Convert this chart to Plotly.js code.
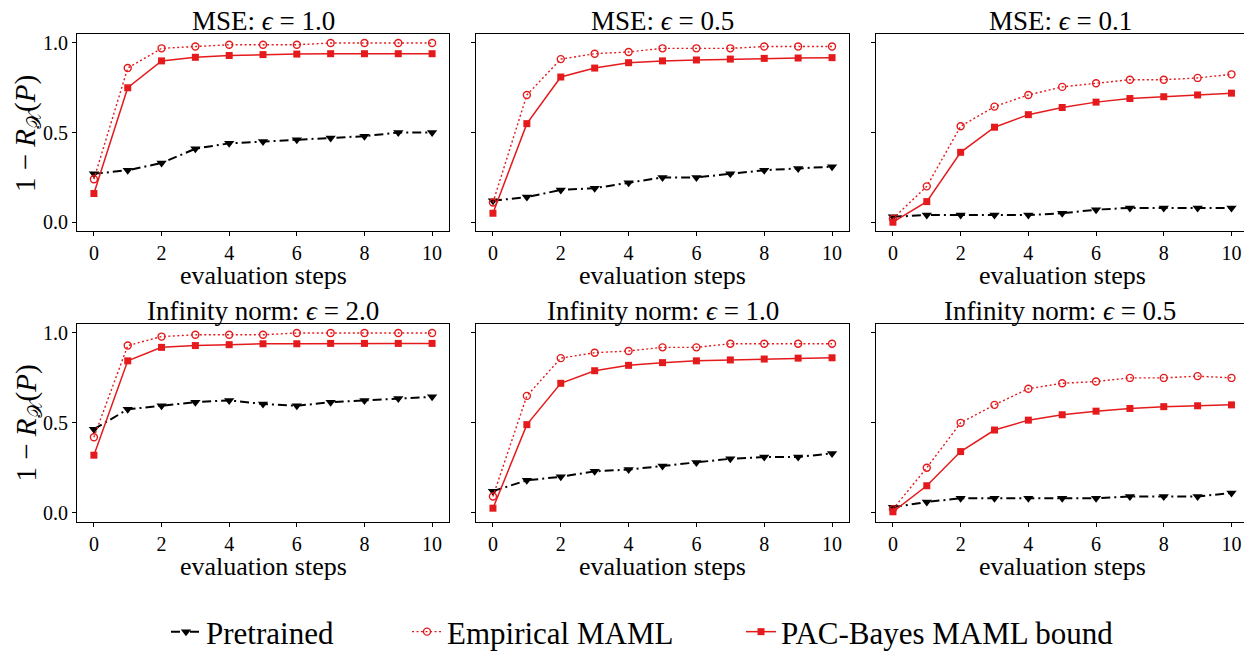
<!DOCTYPE html>
<html>
<head>
<meta charset="utf-8">
<script src="https://cdn.plot.ly/plotly-3.0.1.min.js"></script>
<style>html,body{margin:0;padding:0;background:#fff;}#chart{width:1244px;height:651px;}</style>
</head>
<body>
<div id="chart"></div>
<script>
const steps = [0,1,2,3,4,5,6,7,8,9,10];
const panelTitles = [
  'MSE: <i>ϵ</i> = 1.0', 'MSE: <i>ϵ</i> = 0.5', 'MSE: <i>ϵ</i> = 0.1',
  'Infinity norm: <i>ϵ</i> = 2.0', 'Infinity norm: <i>ϵ</i> = 1.0', 'Infinity norm: <i>ϵ</i> = 0.5'
];
const seriesNames = ['Pretrained', 'Empirical MAML', 'PAC-Bayes MAML bound'];
const yTitle = '1 − <i>R</i><sub>𝒳</sub>(<i>P</i>)';
const xTitle = 'evaluation steps';
const yTickVals = [0, 0.5, 1.0];
const yTickText = ['0.0', '0.5', '1.0'];
const xTickVals = [0, 2, 4, 6, 8, 10];

const mse10_pre = [0.27,0.29,0.33,0.41,0.44,0.45,0.46,0.47,0.48,0.50,0.50];
const mse10_emp = [0.24,0.86,0.97,0.98,0.99,0.99,0.99,1.00,1.00,1.00,1.00];
const mse10_pac = [0.16,0.75,0.90,0.92,0.93,0.935,0.938,0.94,0.94,0.94,0.94];

const mse05_pre = [0.12,0.14,0.18,0.19,0.22,0.25,0.25,0.27,0.29,0.30,0.31];
const mse05_emp = [0.11,0.71,0.91,0.94,0.95,0.97,0.97,0.97,0.98,0.98,0.98];
const mse05_pac = [0.05,0.55,0.81,0.86,0.89,0.90,0.905,0.91,0.914,0.916,0.918];

const mse01_pre = [0.03,0.04,0.04,0.04,0.04,0.05,0.07,0.08,0.08,0.08,0.08];
const mse01_emp = [0.02,0.20,0.535,0.645,0.71,0.755,0.775,0.795,0.795,0.805,0.825];
const mse01_pac = [0.00,0.115,0.39,0.53,0.60,0.64,0.67,0.69,0.70,0.71,0.72];

const inf20_pre = [0.465,0.575,0.595,0.615,0.625,0.605,0.595,0.615,0.625,0.635,0.645];
const inf20_emp = [0.42,0.93,0.98,0.99,0.99,0.99,1.0,1.0,1.0,1.0,1.0];
const inf20_pac = [0.32,0.845,0.92,0.93,0.935,0.94,0.94,0.942,0.942,0.942,0.942];

const inf10_pre = [0.12,0.18,0.20,0.23,0.24,0.26,0.28,0.30,0.31,0.31,0.33];
const inf10_emp = [0.09,0.65,0.86,0.89,0.90,0.92,0.92,0.94,0.94,0.94,0.94];
const inf10_pac = [0.025,0.49,0.72,0.79,0.82,0.835,0.845,0.85,0.855,0.86,0.862];

const inf05_pre = [0.03,0.06,0.08,0.08,0.08,0.08,0.08,0.09,0.09,0.09,0.11];
const inf05_emp = [0.02,0.25,0.50,0.60,0.69,0.72,0.73,0.75,0.75,0.76,0.75];
const inf05_pac = [0.005,0.15,0.34,0.46,0.515,0.545,0.565,0.58,0.59,0.595,0.60];

const panels = [
  [mse10_pre, mse10_emp, mse10_pac],
  [mse05_pre, mse05_emp, mse05_pac],
  [mse01_pre, mse01_emp, mse01_pac],
  [inf20_pre, inf20_emp, inf20_pac],
  [inf10_pre, inf10_emp, inf10_pac],
  [inf05_pre, inf05_emp, inf05_pac]
];

const RED = '#e41a1c';
const FONT = '"Liberation Serif", "DejaVu Serif", serif';
const W = 1244, H = 651;

const styles = [
  {line:{color:'#000', width:2, dash:'9px,4px,2px,4px'}, marker:{symbol:'triangle-down', size:9, color:'#000'}},
  {line:{color:RED, width:1.4, dash:'2px,2.5px'}, marker:{symbol:'circle-open', size:7, color:RED, line:{width:1.4, color:RED}}},
  {line:{color:RED, width:1.5}, marker:{symbol:'square', size:7, color:RED}}
];

const colPx = [[77,449],[476,849],[876,1244]];
const rowPx = [[34,231],[324,521.5]];
const titleYPx = [21, 311];
const yTitleYPx = [134, 423.5];
const xTitleYPx = [275, 566];
const legendIds = ['legend', 'legend2', 'legend3'];
const legendTextStartPx = [207, 448, 782];

const traces = [];
const layout = {
  width: W, height: H,
  margin: {l:0, r:0, t:0, b:0, autoexpand:false},
  paper_bgcolor: '#fff', plot_bgcolor: '#fff',
  font: {family: FONT, color: '#000'},
  showlegend: true,
  annotations: []
};
legendIds.forEach((id, k) => {
  layout[id] = {orientation:'h', x:(legendTextStartPx[k] - 41)/W, xanchor:'left', y:1-632/H, yanchor:'middle',
                font:{family:FONT, size:31, color:'#000'}, bgcolor:'rgba(0,0,0,0)'};
});

panels.forEach((series, i) => {
  const n = i + 1;
  const row = Math.floor(i / 3), col = i % 3;
  const xa = n === 1 ? 'xaxis' : 'xaxis' + n;
  const ya = n === 1 ? 'yaxis' : 'yaxis' + n;
  series.forEach((vals, s) => {
    traces.push(Object.assign({
      type:'scatter', mode:'lines+markers', x: steps, y: vals,
      name: seriesNames[s], legend: legendIds[s], showlegend: i === 0,
      xaxis: 'x' + n, yaxis: 'y' + n, cliponaxis: false
    }, JSON.parse(JSON.stringify(styles[s]))));
  });
  const xd = [colPx[col][0]/W, colPx[col][1]/W];
  const yd = [1 - rowPx[row][1]/H, 1 - rowPx[row][0]/H];
  layout[xa] = {
    domain: xd, anchor: 'y' + n,
    range: col === 2 ? [-0.5, 10.37] : [-0.5, 10.5],
    tickvals: xTickVals, ticks:'outside', ticklen:4, tickcolor:'#000', tickwidth:1,
    showline:true, linecolor:'#000', linewidth:1, mirror:true,
    showgrid:false, zeroline:false,
    tickfont:{family:FONT, size:20, color:'#000'}
  };
  layout[ya] = {
    domain: yd, anchor: 'x' + n,
    range: [-0.049, 1.05],
    tickvals: yTickVals, ticktext: yTickText, ticks:'outside', ticklen:4, tickcolor:'#000', tickwidth:1,
    showticklabels: col === 0,
    showline:true, linecolor:'#000', linewidth:1, mirror: col === 2 ? false : true,
    showgrid:false, zeroline:false,
    tickfont:{family:FONT, size:20, color:'#000'}
  };
  layout.annotations.push({
    text: panelTitles[i], xref:'paper', yref:'paper',
    x: (xd[0] + xd[1]) / 2, y: 1 - titleYPx[row] / H,
    xanchor:'center', yanchor:'middle', showarrow:false,
    font:{family:FONT, size:27, color:'#000'}
  });
  layout.annotations.push({
    text: xTitle, xref:'paper', yref:'paper',
    x: (colPx[col][0] + (col === 2 ? 1248.6 : colPx[col][1])) / 2 / W, y: 1 - xTitleYPx[row] / H,
    xanchor:'center', yanchor:'middle', showarrow:false, borderpad:0,
    font:{family:FONT, size:26, color:'#000'}
  });
  if (col === 0) {
    layout.annotations.push({
      text: yTitle, xref:'paper', yref:'paper', textangle:-90,
      x: 27 / W, y: 1 - yTitleYPx[row] / H,
      xanchor:'center', yanchor:'middle', showarrow:false,
      font:{family:FONT, size:29, color:'#000'}
    });
  }
});

Plotly.newPlot('chart', traces, layout, {staticPlot:true, displayModeBar:false});
</script>
</body>
</html>
